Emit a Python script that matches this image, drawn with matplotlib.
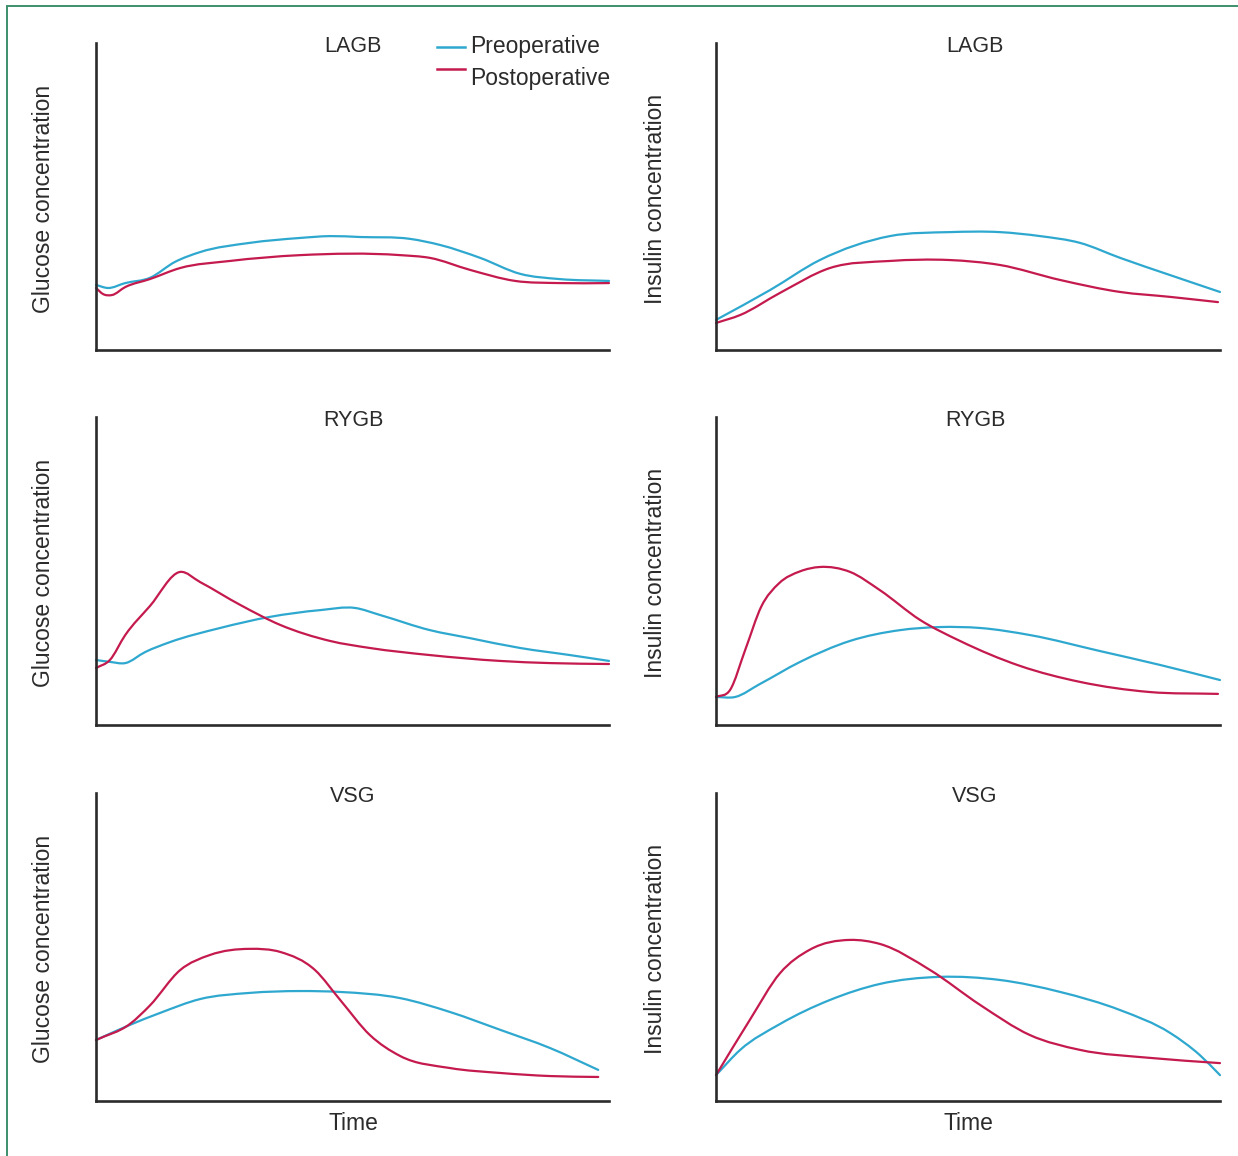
import numpy as np
import matplotlib
matplotlib.use("Agg")
import matplotlib.pyplot as plt
from matplotlib.path import Path
from matplotlib.patches import PathPatch, Rectangle

plt.rcParams['font.family'] = ['Liberation Sans', 'DejaVu Sans']

BLUE = '#2fa8cf'
RED = '#c41a4e'
INK = '#2b2b2b'

# ---------- data (time 0-100, concentration 0-100, arbitrary units) ----------
# LAGB glucose
lagb_glu_pre_t = [0, 2.3, 5.7, 10.5, 15.4, 20.3, 30.0, 39.8, 45.6, 51.5, 61.2, 67.1, 74.9, 82.7, 90.4, 100]
lagb_glu_pre_y = [21.2, 20.2, 21.8, 23.5, 28.7, 31.9, 34.9, 36.5, 37.1, 36.8, 36.2, 34.2, 30.0, 24.8, 23.1, 22.5]
lagb_glu_post_t = [0, 1.4, 3.1, 5.7, 10.5, 16.4, 26.1, 39.8, 59.3, 65.1, 72.9, 81.7, 90.4, 100]
lagb_glu_post_y = [20.2, 18.2, 17.9, 20.5, 23.1, 26.7, 29.0, 30.9, 30.9, 30.0, 26.1, 22.5, 21.8, 21.8]
# LAGB insulin
lagb_ins_pre_t = [0, 10.7, 20.6, 34.5, 46.4, 56.3, 64.3, 72.2, 80.2, 90.1, 100]
lagb_ins_pre_y = [9.8, 19.5, 29.3, 37.1, 38.4, 38.4, 37.1, 34.9, 30.0, 24.4, 18.9]
lagb_ins_post_t = [0, 4.8, 12.7, 22.6, 34.5, 46.4, 56.3, 68.3, 80.2, 90.1, 99.6]
lagb_ins_post_y = [8.8, 11.4, 18.6, 26.7, 29.0, 29.3, 27.7, 22.8, 18.9, 17.3, 15.6]
# RYGB glucose
rygb_glu_pre_t = [0, 2.7, 5.7, 9.6, 14.4, 24.2, 33.9, 43.7, 50.5, 55.4, 65.1, 72.9, 82.7, 92.4, 100]
rygb_glu_pre_y = [21.1, 20.5, 20.1, 23.7, 26.9, 31.5, 35.1, 37.3, 38.0, 35.7, 30.8, 28.2, 25.0, 22.7, 20.8]
rygb_glu_post_t = [0, 2.7, 5.7, 10.5, 16.4, 20.3, 28.1, 35.9, 45.6, 53.4, 65.1, 78.8, 88.5, 100]
rygb_glu_post_y = [18.5, 21.1, 29.2, 38.6, 49.7, 46.4, 39.0, 32.5, 27.3, 25.0, 22.7, 20.8, 20.1, 19.8]
# RYGB insulin
rygb_ins_pre_t = [0, 3.8, 8.7, 16.7, 26.6, 36.5, 44.4, 52.4, 62.3, 76.2, 88.1, 100]
rygb_ins_pre_y = [9.1, 9.1, 13.3, 20.5, 27.3, 30.8, 31.8, 31.5, 29.2, 24.0, 19.5, 14.6]
rygb_ins_post_t = [0, 2.8, 5.8, 9.0, 12.5, 16.7, 20.6, 26.6, 32.5, 40.5, 48.4, 60.3, 72.2, 86.1, 99.6]
rygb_ins_post_y = [9.1, 11.4, 24.4, 38.5, 46.0, 49.9, 51.3, 49.7, 43.8, 34.1, 27.3, 19.2, 14.0, 10.7, 10.1]
# VSG glucose
vsg_glu_pre_t = [0, 6.6, 12.5, 20.3, 30.0, 39.8, 47.6, 59.3, 69.0, 78.8, 88.5, 97.9]
vsg_glu_pre_y = [19.8, 24.7, 28.6, 33.1, 35.1, 35.7, 35.4, 33.4, 28.9, 23.1, 17.2, 10.1]
vsg_glu_post_t = [0, 6.6, 10.5, 16.4, 22.2, 30.0, 35.9, 42.7, 47.6, 53.4, 59.3, 69.0, 78.8, 88.5, 97.9]
vsg_glu_post_y = [19.8, 25.0, 31.0, 42.5, 47.4, 49.4, 48.4, 42.5, 32.8, 21.4, 14.6, 10.7, 9.1, 8.1, 7.8]
# VSG insulin
vsg_ins_pre_t = [0, 4.8, 12.7, 22.6, 32.5, 44.4, 56.3, 68.3, 80.2, 90.1, 96.0, 100]
vsg_ins_pre_y = [8.4, 16.6, 25.0, 32.8, 38.0, 40.3, 39.3, 35.4, 29.5, 22.1, 14.9, 8.4]
vsg_ins_post_t = [0, 6.7, 12.7, 18.7, 26.6, 32.5, 42.5, 52.4, 62.3, 72.2, 86.1, 100]
vsg_ins_post_y = [8.4, 26.3, 41.5, 49.2, 52.3, 51.0, 42.5, 31.2, 21.4, 16.6, 14.0, 12.3]

titles = ['LAGB', 'RYGB', 'VSG']
ylabels = ['Glucose concentration', 'Insulin concentration']
xlabel = 'Time'
legend_labels = ['Preoperative', 'Postoperative']

panels = [
    [(lagb_glu_pre_t, lagb_glu_pre_y, lagb_glu_post_t, lagb_glu_post_y),
     (lagb_ins_pre_t, lagb_ins_pre_y, lagb_ins_post_t, lagb_ins_post_y)],
    [(rygb_glu_pre_t, rygb_glu_pre_y, rygb_glu_post_t, rygb_glu_post_y),
     (rygb_ins_pre_t, rygb_ins_pre_y, rygb_ins_post_t, rygb_ins_post_y)],
    [(vsg_glu_pre_t, vsg_glu_pre_y, vsg_glu_post_t, vsg_glu_post_y),
     (vsg_ins_pre_t, vsg_ins_pre_y, vsg_ins_post_t, vsg_ins_post_y)],
]


def smooth_path(t, y):
    """Cubic Hermite curve through the read points (tangents from neighbouring
    slopes, weighted by spacing), drawn as Bezier segments."""
    t = np.asarray(t, float)
    y = np.asarray(y, float)
    n = len(t)
    h = np.diff(t)
    d = np.diff(y) / h
    m = np.empty(n)
    m[0] = d[0]
    m[-1] = d[-1]
    for i in range(1, n - 1):
        m[i] = (d[i - 1] * h[i] + d[i] * h[i - 1]) / (h[i - 1] + h[i])
    verts = [(t[0], y[0])]
    codes = [Path.MOVETO]
    for i in range(n - 1):
        verts += [(t[i] + h[i] / 3, y[i] + m[i] * h[i] / 3),
                  (t[i + 1] - h[i] / 3, y[i + 1] - m[i + 1] * h[i] / 3),
                  (t[i + 1], y[i + 1])]
        codes += [Path.CURVE4] * 3
    return Path(verts, codes)


W, H = 1238, 1156
fig = plt.figure(figsize=(W / 100, H / 100), dpi=100)

# outer frame
fig.patches.append(Rectangle((7 / W, -0.01), 1.2, 1 - 5.5 / H + 0.01, transform=fig.transFigure,
                             fill=False, edgecolor='#3d8f6b', linewidth=1.4))

col_x = [(96, 609), (716, 1220)]
row_y = [(43, 350), (417, 725), (793, 1101)]
label_x = [44, 656]
FS_TITLE = 15.5
FS = 16.5

for r in range(3):
    for c in range(2):
        x0, x1 = col_x[c]
        ytop, ybot = row_y[r]
        ax = fig.add_axes([x0 / W, 1 - ybot / H, (x1 - x0) / W, (ybot - ytop) / H])
        ax.set_xlim(0, 100)
        ax.set_ylim(0, 100)
        for s in ['top', 'right']:
            ax.spines[s].set_visible(False)
        for s in ['left', 'bottom']:
            ax.spines[s].set_linewidth(1.9)
            ax.spines[s].set_color(INK)
        ax.set_xticks([])
        ax.set_yticks([])
        ax.patch.set_alpha(0)
        pt, py_, qt, qy = panels[r][c]
        ax.add_patch(PathPatch(smooth_path(pt, py_), fill=False, edgecolor=BLUE, linewidth=1.6,
                               capstyle='round', clip_on=False))
        ax.add_patch(PathPatch(smooth_path(qt, qy), fill=False, edgecolor=RED, linewidth=1.6,
                               capstyle='round', clip_on=False))
        # title
        cx = 353 if c == 0 else 975
        fig.text(cx / W, 1 - (ytop + 3) / H, titles[r], ha='center', va='center',
                 fontsize=FS_TITLE, color=INK)
        # y label
        fig.text(label_x[c] / W, 1 - ((ytop + ybot) / 2 + 2) / H, ylabels[c],
                 rotation=90, ha='center', va='center', fontsize=FS, color=INK)
        if r == 2:
            tx = 353 if c == 0 else 968
            fig.text(tx / W, 1 - 1124 / H, xlabel, ha='center', va='center',
                     fontsize=FS, color=INK)

# legend
for i, (lab, col) in enumerate(zip(legend_labels, [BLUE, RED])):
    yy = [47, 69][i]
    ty = [47, 79][i]
    fig.add_artist(plt.Line2D([437 / W, 465 / W], [1 - yy / H, 1 - yy / H],
                              transform=fig.transFigure, color=col, linewidth=1.8))
    fig.text(470 / W, 1 - ty / H, lab, ha='left', va='center', fontsize=FS, color=INK)

fig.savefig('out.png', dpi=100, facecolor='white')
